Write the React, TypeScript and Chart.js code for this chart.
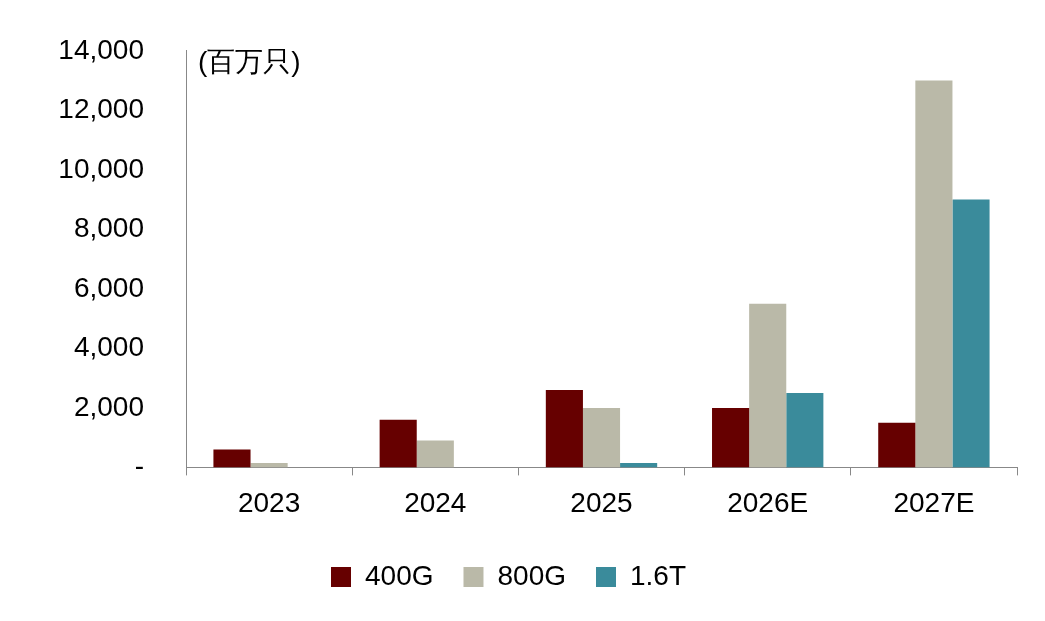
import React, { useEffect, useRef } from "react";
import { Chart, registerables } from "chart.js";
Chart.register(...registerables);

const categories = ["2023", "2024", "2025", "2026E", "2027E"];
const s400G = [600, 1600, 2600, 2000, 1500];
const s800G = [150, 900, 2000, 5500, 13000];
const s16T = [0, 0, 150, 2500, 9000];
const unitLabel = "(百万只)";

export default function App() {
  const ref = useRef<HTMLCanvasElement>(null);
  useEffect(() => {
    const font = "'Liberation Sans', Arial, sans-serif";
    const unitPlugin = {
      id: "unit",
      afterDraw(c: any) {
        const ctx = c.ctx;
        ctx.save();
        ctx.font = `28px ${font}`;
        ctx.fillStyle = "#000";
        ctx.textBaseline = "middle";
        ctx.fillText(unitLabel, c.chartArea.left + 12, c.chartArea.top + 12);
        ctx.restore();
      },
    };
    const chart = new Chart(ref.current!, {
      type: "bar",
      data: {
        labels: categories,
        datasets: [
          { label: "400G", data: s400G, backgroundColor: "#660000" },
          { label: "800G", data: s800G, backgroundColor: "#bab9a8" },
          { label: "1.6T", data: s16T, backgroundColor: "#3a8b9b" },
        ],
      },
      options: {
        animation: false,
        responsive: false,
        devicePixelRatio: 1,
        layout: { padding: { left: 0, right: 28, top: 22, bottom: 20 } },
        datasets: { bar: { categoryPercentage: 0.67, barPercentage: 1 } } as any,
        plugins: {
          legend: {
            position: "bottom",
            labels: { font: { family: font, size: 28 }, color: "#000", boxWidth: 20, boxHeight: 20, padding: 30 },
          },
          tooltip: { enabled: false },
        },
        scales: {
          x: {
            grid: { display: true, drawOnChartArea: false, tickLength: 8, color: "#888", offset: true },
            border: { color: "#888" },
            ticks: { font: { family: font, size: 28 }, color: "#000", padding: 12 },
          },
          y: {
            min: 0,
            max: 14000,
            afterFit: (s: any) => { s.width = 186; },
            grid: { display: false },
            border: { color: "#888" },
            ticks: {
              stepSize: 2000,
              font: { family: font, size: 28 },
              color: "#000",
              padding: 34,
              callback: (v: any) => (v === 0 ? "-" : Number(v).toLocaleString("en-US")),
            },
          },
        },
      },
      plugins: [unitPlugin],
    });
    return () => chart.destroy();
  }, []);
  return (
    <div style={{ position: "fixed", left: 0, top: 0, width: 1045, height: 621, background: "#fff" }}>
      <canvas ref={ref} width={1045} height={621} />
    </div>
  );
}
